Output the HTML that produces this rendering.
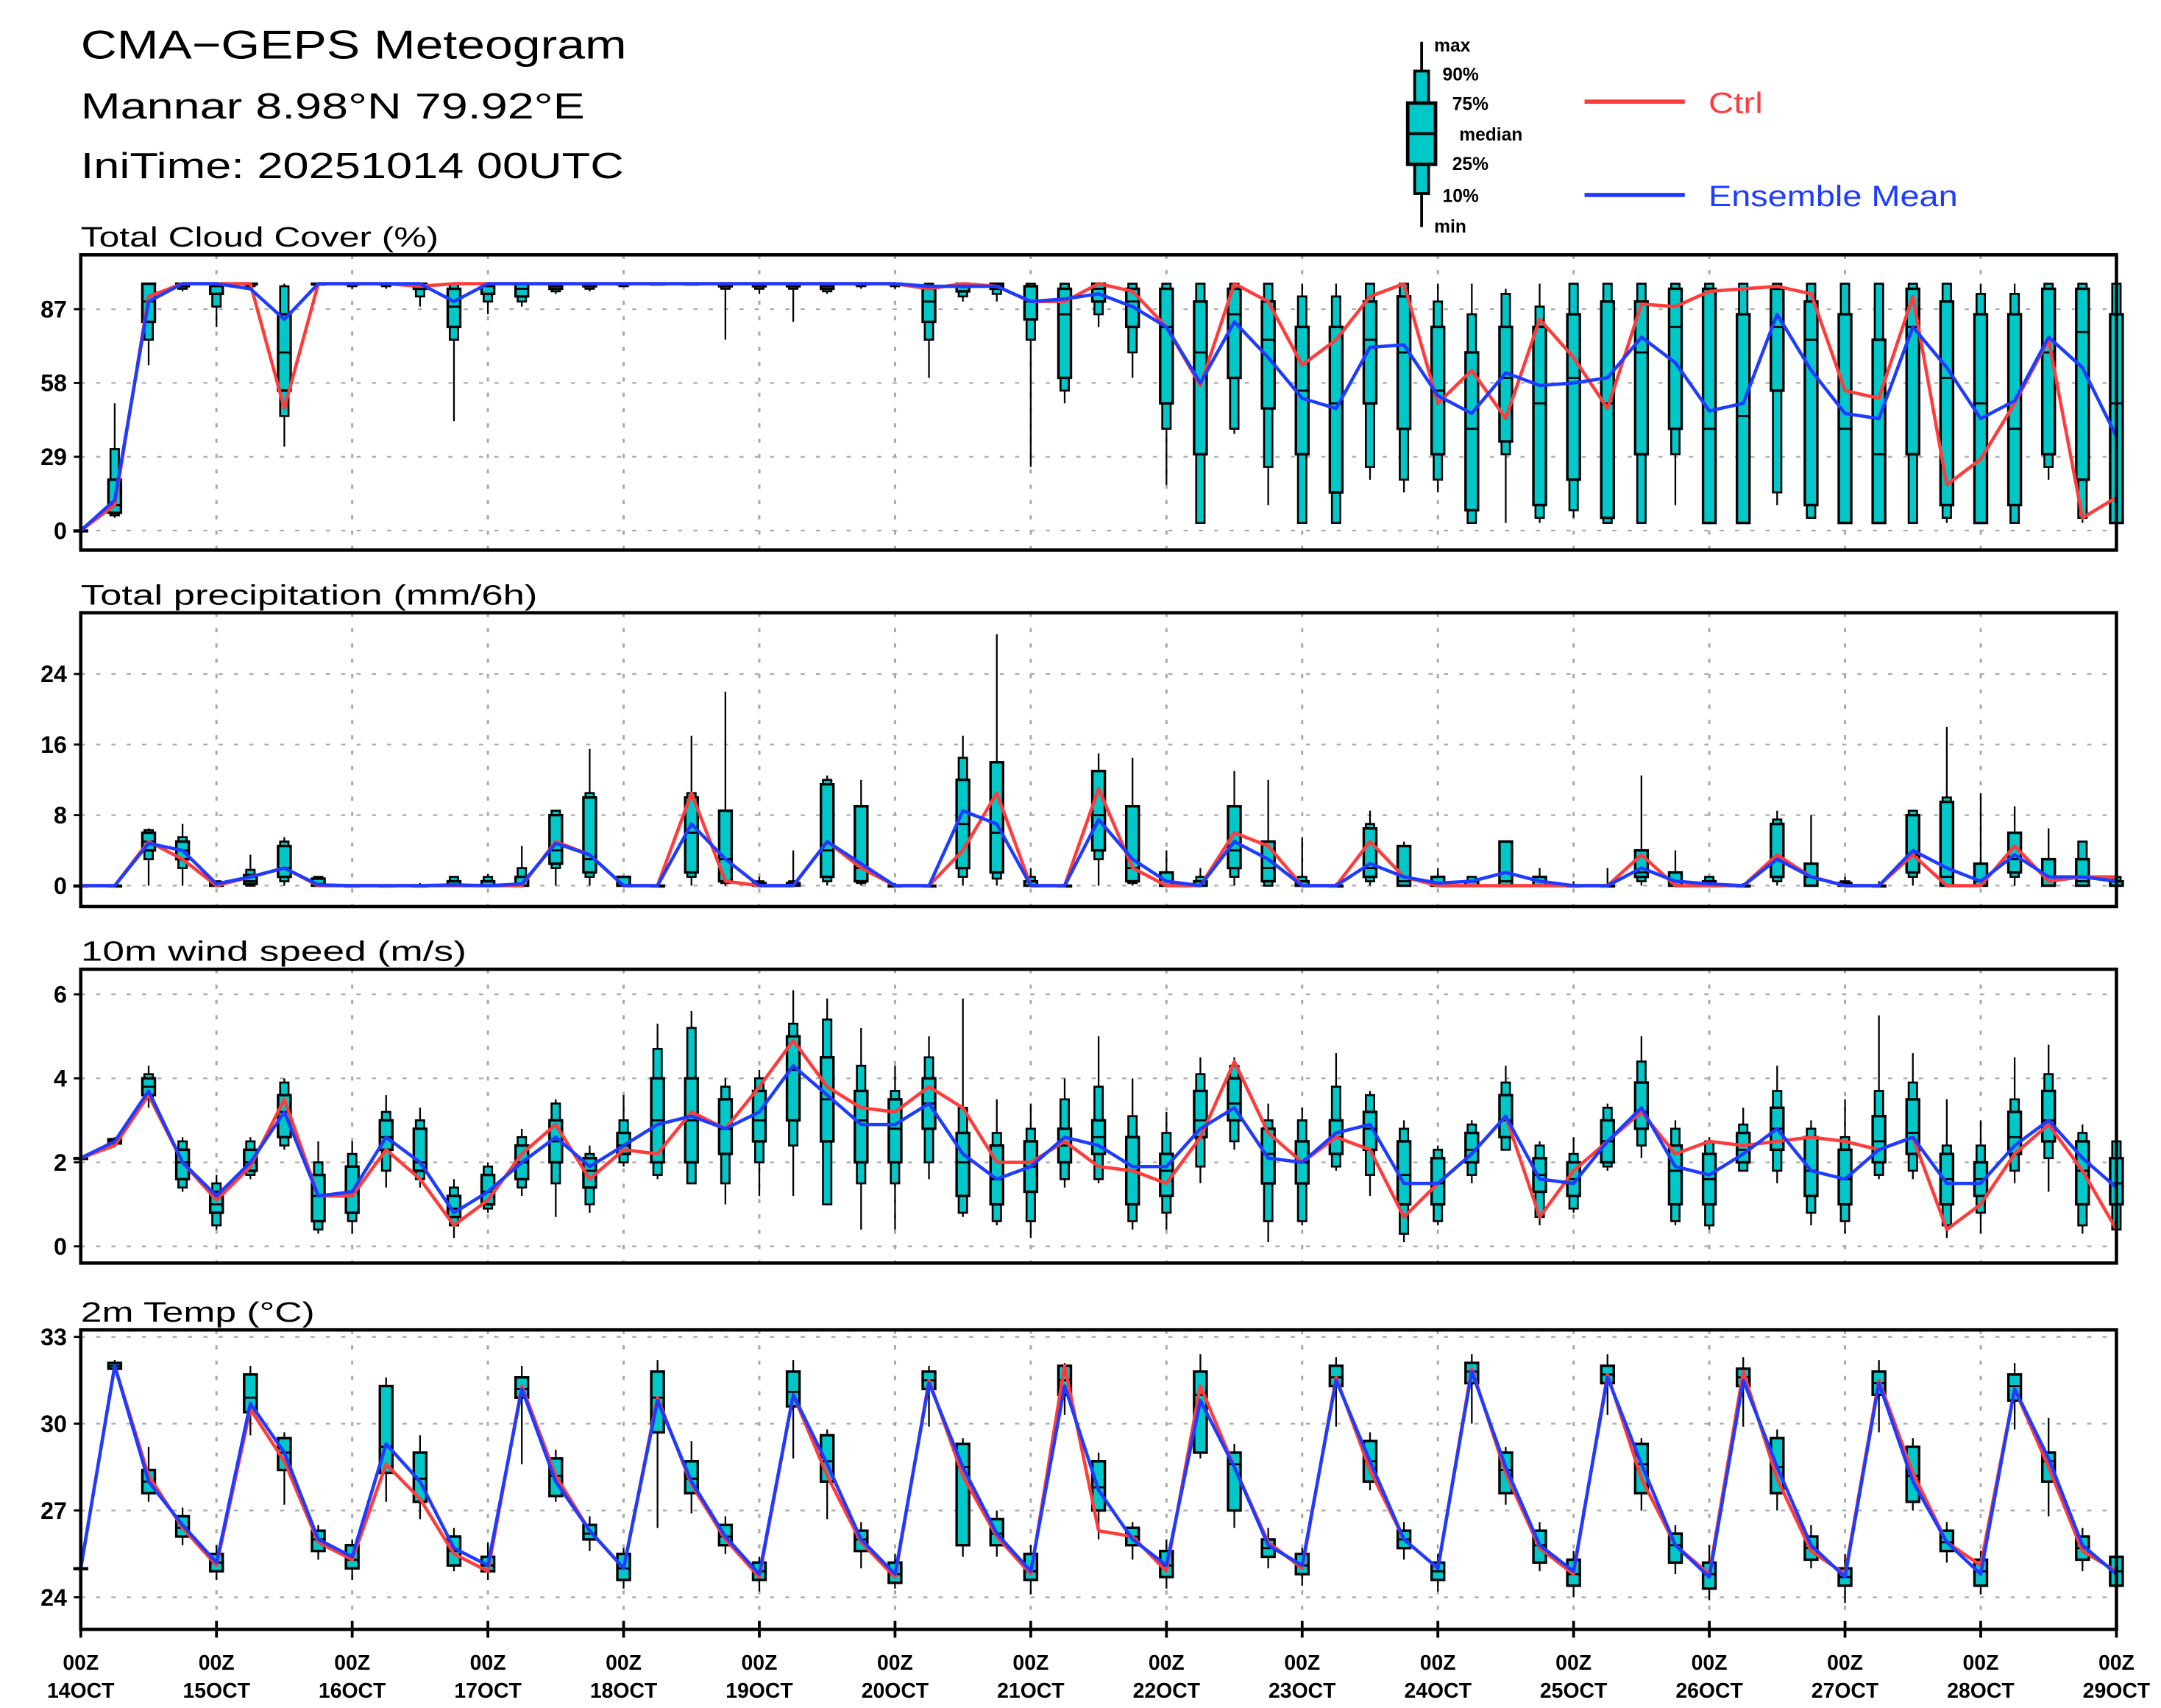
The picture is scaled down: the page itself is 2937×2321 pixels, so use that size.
<!DOCTYPE html>
<html><head><meta charset="utf-8"><style>
html,body{margin:0;padding:0;background:#fff;}
svg{display:block;font-family:"Liberation Sans",sans-serif;}
</style></head><body>
<svg id="chart" width="2937" height="2321" viewBox="0 0 1552 1226.5" xmlns="http://www.w3.org/2000/svg">
<rect x="0" y="0" width="1552" height="1226.5" fill="#fff"/>
<text x="58" y="42" font-size="29" fill="#000" textLength="392" lengthAdjust="spacingAndGlyphs">CMA−GEPS Meteogram</text>
<text x="58" y="85" font-size="26" fill="#000" textLength="362" lengthAdjust="spacingAndGlyphs">Mannar 8.98°N 79.92°E</text>
<text x="58" y="128" font-size="26" fill="#000" textLength="390" lengthAdjust="spacingAndGlyphs">IniTime: 20251014 00UTC</text>
<g>
<line x1="1021" y1="30" x2="1021" y2="163" stroke="#000" stroke-width="2"/>
<rect x="1016" y="51" width="10" height="88" fill="#00c8c8" stroke="#000" stroke-width="2"/>
<rect x="1011" y="74" width="20" height="44" fill="#00c8c8" stroke="#000" stroke-width="2.5"/>
<line x1="1011" y1="96" x2="1031" y2="96" stroke="#000" stroke-width="2"/>
<text x="1030" y="37" font-size="13" font-weight="bold">max</text>
<text x="1036" y="58" font-size="13" font-weight="bold">90%</text>
<text x="1043" y="79" font-size="13" font-weight="bold">75%</text>
<text x="1048" y="101" font-size="13" font-weight="bold">median</text>
<text x="1043" y="122" font-size="13" font-weight="bold">25%</text>
<text x="1036" y="145" font-size="13" font-weight="bold">10%</text>
<text x="1030" y="167" font-size="13" font-weight="bold">min</text>
</g>
<g>
<line x1="1138" y1="73" x2="1210" y2="73" stroke="#ff3c3c" stroke-width="3"/>
<text x="1227" y="81" font-size="21" fill="#ff3c3c" textLength="39" lengthAdjust="spacingAndGlyphs">Ctrl</text>
</g>
<g>
<line x1="1138" y1="140" x2="1210" y2="140" stroke="#1e3cff" stroke-width="3"/>
<text x="1227" y="148" font-size="21" fill="#1e3cff" textLength="179" lengthAdjust="spacingAndGlyphs">Ensemble Mean</text>
</g>
<g id="plots"></g>
</svg>
<script>
// ---------- Total cloud cover (%) ----------
const cloudCtrl=[0,10,92,97,97,97,48,97,97,97,96,97,97,97,97,97,97,97,97,97,97,97,97,97,97,95,97,96,90,90,97,94,80,57,97,90,65,75,92,97,50,63,44,83,68,48,89,88,94,95,96,93,55,52,92,18,28,50,75,5,13];
const cloudMean=[0,12,90,97,97,95,83,97,97,97,97,90,97,97,97,97,97,97,97,97,97,97,97,97,97,96,96,96,90,91,93,88,80,58,82,68,52,48,72,73,53,46,62,57,58,60,76,66,47,50,85,63,46,44,80,64,44,51,76,64,37];
const cloudMin=[0,5,65,94,80,95,33,96,95,95,88,43,85,88,93,94,96,97,97,75,93,82,93,95,95,60,90,90,25,50,80,60,18,3,38,10,3,3,20,15,15,3,3,3,5,3,3,10,3,3,10,5,3,3,3,3,3,3,20,3,3];
const cloudP10=[0,6,75,95,88,96,45,97,96,96,92,75,90,90,94,95,96,97,97,95,95,95,94,96,96,75,92,93,75,55,85,70,40,3,40,25,3,3,25,20,20,3,30,5,8,3,3,30,3,3,15,5,3,3,3,5,3,3,25,5,3];
const cloudP25=[0,7,82,96,93,97,55,97,97,97,95,80,93,92,95,96,97,97,97,96,96,96,95,97,97,82,94,95,83,60,90,80,50,30,60,48,30,15,50,40,30,8,35,10,20,5,30,40,3,3,55,10,3,3,30,10,3,10,30,20,3];
const cloudMed=[0,10,90,97,96,97,70,97,97,97,96,88,96,95,96,97,97,97,97,97,97,97,96,97,97,90,96,96,90,85,95,90,80,70,85,75,55,50,75,70,55,40,60,50,60,50,70,80,40,45,80,75,40,30,80,60,50,40,70,78,50];
const cloudP75=[0,20,97,97,97,97,85,97,97,97,97,95,97,97,97,97,97,97,97,97,97,97,97,97,97,95,97,97,96,95,97,95,95,90,95,90,80,80,90,92,80,70,80,80,85,90,90,95,95,85,95,90,85,75,95,90,85,85,95,95,85];
const cloudP90=[0,32,97,97,97,97,96,97,97,97,97,97,97,97,97,97,97,97,97,97,97,97,97,97,97,97,97,97,97,97,97,97,97,97,97,97,92,92,97,97,90,85,93,88,97,97,97,97,97,97,97,97,97,97,97,97,93,93,97,97,97];
const cloudMax=[0,50,97,97,97,97,97,97,97,97,97,97,97,97,97,97,97,97,97,97,97,97,97,97,97,97,97,97,97,97,97,97,97,97,97,97,97,97,97,97,97,97,95,97,97,97,97,97,97,97,97,97,97,97,97,97,97,97,97,97,97];
const cloudTicks=[0,29,58,87];

// ---------- Total precipitation (mm/6h) ----------
const prCtrl=[0,0,5,3,0,1,2,0,0,0,0,0,0,0,5,3.5,0,0,10.5,0.5,0,0,5,2,0,0,4,10.5,0,0,11,2,0,0,6,4.5,0,0,5,1,0,0,0,0,0,0,3.5,0,0,0,3.5,1,0,0,3.5,0,0,4.5,0.5,1,1];
const prMean=[0,0,4.8,4,0.2,1,2,0.1,0,0,0,0.1,0,0.2,4.8,3.5,0,0,7,3,0,0,5,2.5,0,0,8.5,7,0,0,7.5,3,0.5,0,5,3,0,0,2.5,1,0.3,0.5,1.5,0.5,0,0,2,0.5,0.2,0,3,1,0,0,4,2,0.5,3.5,1,1,0.5];
const prP10=[0,0,3,2,0,0,0.5,0,0,0,0,0,0,0,2,1,0,0,1,0.3,0,0,0.5,0.3,0,0,1,0.8,0,0,3,0.3,0,0,1,0,0,0,0.5,0,0,0,0,0,0,0,0.5,0,0,0,0.5,0,0,0,1,0,0,1,0,0,0];
const prP25=[0,0,4,3,0,0.2,1,0,0,0,0,0,0,0,2.5,1.5,0,0,1.5,0.5,0,0,1,0.5,0,0,2,1.5,0,0,4,0.5,0,0,2,0.5,0,0,1,0,0,0,0,0,0,0,1,0,0,0,1,0,0,0,1.5,0,0,1.5,0,0,0];
const prMed=[0,0,5,4,0,0.5,2,0.2,0,0,0,0,0,0,4,3,0,0,6,3,0,0,4,2,0,0,7,6,0,0,8,2,0,0,4,2,0,0,2,0.5,0,0,0.5,0,0,0,1.5,0.5,0,0,3,1,0,0,3.5,1,0.5,3,1,0.5,0];
const prP75=[0,0,6,5,0.3,1.2,4.5,0.8,0,0,0,0.5,0.5,1,8,10,1,0,10,8.5,0.3,0.3,11.5,9,0,0,12,14,0.5,0,13,9,1.5,0.5,9,5,0.5,0,6.5,4.5,1,0.5,5,1,0,0,4,1.5,0.5,0,7,2.5,0.3,0,8,9.5,2.5,6,3,3,0.5];
const prP90=[0,0,6.3,5.5,0.5,1.8,5,1,0,0,0,1,1,2,8.5,10.5,1,0,10.5,8.5,0.5,0.5,12,9,0,0,14.5,14,1,0,13,9,1.5,1,9,5,1,0,7,4.5,1,1,5,1,0,0,4,1.5,1,0,7.5,2.5,0.5,0,8.5,10,2.5,6,3,5,1];
const prMax=[0,0,6.5,7,0.5,3.5,5.5,1,0,0,0.3,1,1.3,4.5,8.5,15.5,1,0.2,17,22,1,4,12.5,12,0.3,0.2,17,28.5,2,0.2,15,14.5,4,2,13,12,5.5,0.3,8.5,5,2,1,5,2,0.5,2,12.5,4,1,0.3,8.5,8,1,0.5,8.5,18,10.5,9,6.5,5,5];
const prTicks=[0,8,16,24];

// ---------- 10m wind speed (m/s) ----------
const wCtrl=[2.1,2.4,3.6,2,1.1,1.9,3.5,1.2,1.2,2.3,1.6,0.5,1.1,2.2,2.9,1.6,2.3,2.2,3.2,2.8,3.8,4.9,3.8,3.3,3.2,3.8,3.3,2,2,2.5,1.9,1.8,1.5,2.6,4.4,2.7,2,2.6,2.3,0.7,1.5,2.2,3.1,0.7,1.8,2.5,3.2,2.2,2.5,2.4,2.5,2.6,2.5,2.3,2.6,0.4,1,2.2,2.9,1.8,0.4];
const wMean=[2.1,2.5,3.7,2,1.2,2,3.2,1.2,1.3,2.6,2,0.8,1.3,2,2.6,1.9,2.4,2.9,3.1,2.8,3.2,4.3,3.6,2.9,2.9,3.4,2.2,1.6,1.9,2.6,2.4,1.9,1.9,2.8,3.3,2.1,2,2.7,2.9,1.5,1.5,2.2,3.1,1.6,1.5,2.5,3.3,1.9,1.7,2.2,2.8,1.8,1.6,2.3,2.6,1.5,1.5,2.4,3,2.1,1.4];
const wMin=[2.1,2.4,3.3,1.3,0.4,1.6,2.3,0.3,0.3,1.4,1.4,0.2,0.8,1.2,0.7,0.8,1.9,1.6,1.5,1,1.2,1.2,1,0.4,0.4,1.6,0.7,0.5,0.2,1.4,1.5,0.4,0.4,1.5,2.3,0.1,0.5,1.8,1.2,0.1,0.5,1.5,2.3,0.5,0.8,1.8,2.1,0.5,0.4,1.8,1.5,0.5,0.3,1.6,1.6,0.2,0.3,1.5,1.3,0.3,0.1];
const wP10=[2.1,2.45,3.5,1.4,0.5,1.7,2.4,0.4,0.6,1.8,1.6,0.5,0.9,1.4,1.5,1,2,1.7,1.5,1.5,2,2.4,1,1.5,1.5,2,0.8,0.6,0.6,1.6,1.6,0.6,0.8,1.9,2.5,0.6,0.6,1.9,1.7,0.3,0.6,1.7,2.3,0.7,0.9,1.9,2.4,0.6,0.5,1.8,1.8,0.8,0.6,1.7,1.8,0.5,0.8,1.8,2.1,0.5,0.4];
const wP25=[2.1,2.45,3.6,1.6,0.8,1.8,2.6,0.6,0.8,2.3,1.8,0.7,1,1.6,2,1.4,2.2,2,2,2.2,2.5,3,2.5,2,2,2.8,1.2,1,1.3,2,2.2,1,1.2,2.6,3,1.5,1.5,2.2,2.3,1,1,2,2.6,1.3,1.2,2,2.8,1,1,2,2.3,1.2,1,2,2.2,1,1.2,2.2,2.5,1,1];
const wMed=[2.1,2.5,3.8,2,1,2,3.2,1.2,1.3,2.6,2,0.9,1.3,2,2.5,1.8,2.4,3,3,2.8,3,4.2,3.5,3,2.8,3.4,2,1.6,1.9,2.4,2.6,1.8,1.8,3,3.4,2.2,2,2.6,2.8,1.7,1.5,2.3,3,1.7,1.6,2.5,3.2,1.8,1.6,2.3,2.8,1.8,1.6,2.5,2.7,1.6,1.6,2.6,3,1.8,1.5];
const wP75=[2.1,2.55,4,2.3,1.3,2.3,3.6,1.7,1.9,3,2.8,1.2,1.7,2.4,3,2.1,2.7,4,4,3.5,3.7,5,4.5,3.7,3.5,4,2.7,2.4,2.5,2.8,3,2.6,2.2,3.7,4,2.8,2.5,3,3.2,2.5,2.1,2.7,3.6,2.1,2,3,3.9,2.4,2.2,2.7,3.3,2.6,2.3,3.1,3.5,2.2,2,3.2,3.7,2.5,2.1];
const wP90=[2.1,2.55,4.1,2.5,1.5,2.5,3.9,2,2.2,3.2,3,1.4,1.9,2.6,3.4,2.2,3,4.7,5.2,3.8,4,5.3,5.4,4.3,3.7,4.5,3.3,2.7,2.8,3.5,3.8,3.1,2.7,4.1,4.3,3,3,3.8,3.6,2.8,2.3,2.9,3.9,2.4,2.2,3.3,4.4,2.8,2.5,2.9,3.7,2.8,2.6,3.7,3.9,2.4,2.4,3.5,4.1,2.7,2.5];
const wMax=[2.1,2.6,4.3,2.6,1.7,2.6,4,2.5,2.5,3.6,3.3,1.6,2,2.8,3.5,2.4,3.6,5.3,5.6,4,4.2,6.1,5.9,5.2,4.3,5,5.9,3.5,3.4,4,5,4,3.2,4.5,4.5,3.4,3.3,4.6,3.7,3,2.4,3,4.3,2.5,2.6,3.4,5,3,2.6,3.3,4.3,3,3.5,5.5,4.6,3.5,3,4.5,4.8,2.9,2.6];
const wTicks=[0,2,4,6];

// ---------- 2m temperature (°C) ----------
const tCtrl=[25,32,28.2,26.4,25.1,30.5,28.7,25.9,25.3,28.6,27.4,25.5,24.9,31.3,28.2,26.3,25,30.9,27.9,26,24.7,31,28.2,25.9,24.7,31.5,28.2,26.1,24.8,32,26.3,26.1,24.9,31.3,28.5,25.9,25,31.6,28.4,26,25,31.9,28.3,25.7,24.8,31.7,28.1,25.8,24.8,31.8,28.1,25.6,24.8,31.5,28.3,25.9,25.1,31.2,28.5,25.6,24.9];
const tMean=[25,32,28,26.5,25.2,30.7,29,26,25.4,29.3,28,25.7,25.1,31.2,28,26.3,25,30.8,28,26.1,24.8,31,28.6,26,24.8,31.4,28.5,26.2,24.9,31.3,27.7,26,25.1,30.8,28.5,25.8,25.1,31.5,28.7,26,25,31.8,28.5,25.8,24.9,31.6,28.6,25.8,24.7,31.5,28.5,25.8,24.7,31.4,28,25.9,24.8,31.2,28.8,25.8,24.8];
const tMin=[25,31.8,27.3,25.8,24.6,29.6,27.2,25.3,24.6,27.3,26.7,24.9,24.6,28.6,27.3,25.6,24.3,26.4,26.9,25.5,24.2,28.8,26.7,25,24.3,29.9,25.4,25.4,24.1,30.3,26,25.3,24.3,28.8,26.4,25,24.4,29.9,27.7,25.3,24.2,30,27.2,24.9,24,30.3,27,24.8,23.9,29.9,27,25,23.8,29.7,27,25.2,24.1,29.8,26.8,24.9,24];
const tP25=[25,31.9,27.6,26.1,24.9,30.4,28.4,25.6,25,28.3,27.3,25.1,24.9,30.9,27.5,26,24.6,29.7,27.6,25.8,24.6,30.6,28,25.6,24.5,31.2,25.8,25.8,24.6,31,27,25.8,24.7,29,27,25.4,24.8,31.3,28,25.7,24.6,31.4,27.6,25.2,24.4,31.4,27.6,25.2,24.3,31.3,27.6,25.3,24.4,31,27.3,25.6,24.4,30.8,28,25.3,24.4];
const tMed=[25,32,28,26.4,25.2,30.9,29,26,25.3,29.2,28.1,25.6,25.1,31.2,28.2,26.2,25,30.9,28.1,26.1,24.9,31.1,28.7,26,24.8,31.5,28.5,26.2,24.9,31.5,27.8,26.1,25.1,31,28.6,25.7,25.1,31.6,28.7,26,24.9,31.8,28.4,25.8,24.8,31.7,28.6,25.8,24.8,31.6,28.5,25.7,24.7,31.4,28.2,25.9,24.9,31.3,28.7,25.7,24.9];
const tP75=[25,32.1,28.4,26.8,25.5,31.7,29.5,26.3,25.8,31.3,29,26.1,25.4,31.6,28.8,26.5,25.5,31.8,28.7,26.5,25.2,31.8,29.6,26.3,25.2,31.8,29.3,26.7,25.5,32,28.7,26.4,25.6,31.8,29,26,25.5,32,29.4,26.3,25.2,32.1,29,26.3,25.3,32,29.3,26.2,25.2,31.9,29.5,26.1,25,31.8,29.2,26.3,25.3,31.7,29,26.1,25.4];
const tMax=[25,32.2,29.2,27.1,25.8,32,29.7,26.5,26,31.6,29.6,26.4,25.9,32,29.1,26.8,25.7,32.2,29.4,26.8,25.4,32.2,29.8,26.6,25.5,32,29.5,27,25.8,32.1,29,26.6,26,32.4,29.3,26.4,25.7,32.3,29.7,26.6,25.5,32.4,29.2,26.6,25.6,32.4,29.5,26.5,25.8,32.3,29.8,26.5,25.5,32.2,29.5,26.6,25.6,32.1,30.2,26.4,25.6];
const tTicks=[24,27,30,33];

const dayLabels=["14OCT","15OCT","16OCT","17OCT","18OCT","19OCT","20OCT","21OCT","22OCT","23OCT","24OCT","25OCT","26OCT","27OCT","28OCT","29OCT"];

const NS="http://www.w3.org/2000/svg";
const plots=document.getElementById('plots');
const X0=58, X1=1520, NSTEP=60;
function xAt(i){return X0+(X1-X0)*i/NSTEP;}
function mk(tag,attrs,parent){const e=document.createElementNS(NS,tag);for(const k in attrs)e.setAttribute(k,attrs[k]);(parent||plots).appendChild(e);return e;}

function panel(cfg){
  const g=mk('g',{});
  
  
  const yAt=v=>cfg.yb+(v-cfg.vb)*(cfg.yt-cfg.yb)/(cfg.vt-cfg.vb);
  for(let d=1;d<15;d++){
    const l=mk('line',{x1:xAt(d*4),x2:xAt(d*4),y1:cfg.top,y2:cfg.bot,stroke:'#aaa','stroke-width':1.6,'stroke-dasharray':'3,8'},g);
    
    
  }
  cfg.ticks.forEach(t=>{
    const y=yAt(t);
    const l=mk('line',{x1:X0,x2:X1,y1:y,y2:y,stroke:'#aaa','stroke-width':1.2,'stroke-dasharray':'3,8'},g);
    
    
    mk('line',{x1:X0-5,x2:X0,y1:y,y2:y,stroke:'#000','stroke-width':1.5},g);
    const tx=mk('text',{x:X0-10,y:y+6,'font-size':17,'font-weight':'bold','text-anchor':'end',fill:'#000'},g);
    
    
    tx.textContent=t;
  });
  const tt=mk('text',{x:58,y:cfg.top-6,'font-size':20,fill:'#000',textLength:cfg.tlen,lengthAdjust:'spacingAndGlyphs'},g);
  
  
  tt.textContent=cfg.title;
  for(let i=0;i<=NSTEP;i++){
    const x=xAt(i);
    const bg=mk('g',{},g);
    
    
    mk('line',{x1:x,x2:x,y1:yAt(cfg.mn[i]),y2:yAt(cfg.mx[i]),stroke:'#000','stroke-width':1.2},bg);
    const a=yAt(cfg.p90[i]),b=yAt(cfg.p10[i]);
    mk('rect',{x:x-3,y:a,width:6,height:Math.max(b-a,0.5),fill:'#00c8c8',stroke:'#000','stroke-width':1.4},bg);
    const c=yAt(cfg.p75[i]),d=yAt(cfg.p25[i]);
    mk('rect',{x:x-4.5,y:c,width:9,height:Math.max(d-c,0.5),fill:'#00c8c8',stroke:'#000','stroke-width':1.8},bg);
    const m=yAt(cfg.med[i]);
    mk('line',{x1:x-4.5,x2:x+4.5,y1:m,y2:m,stroke:'#000','stroke-width':1.5},bg);
  }
  const ctrlPts=cfg.ctrl.map((v,i)=>xAt(i).toFixed(1)+','+yAt(v).toFixed(1)).join(' ');
  const cl=mk('polyline',{points:ctrlPts,fill:'none',stroke:'#ff3c3c','stroke-width':2.4,'stroke-linejoin':'round'},g);
  
  
  const meanPts=cfg.mean.map((v,i)=>xAt(i).toFixed(1)+','+yAt(v).toFixed(1)).join(' ');
  const ml=mk('polyline',{points:meanPts,fill:'none',stroke:'#1e3cff','stroke-width':2.4,'stroke-linejoin':'round'},g);
  
  
  const fr=mk('rect',{x:X0,y:cfg.top,width:X1-X0,height:cfg.bot-cfg.top,fill:'none',stroke:'#000','stroke-width':2.4},g);
  
  
}
panel({name:'cloud-cover-panel',title:'Total Cloud Cover (%)',tlen:257,top:183,bot:395,vb:0,yb:381,vt:87,yt:222,ticks:cloudTicks,
  mn:cloudMin,p10:cloudP10,p25:cloudP25,med:cloudMed,p75:cloudP75,p90:cloudP90,mx:cloudMax,ctrl:cloudCtrl,mean:cloudMean});
panel({name:'precipitation-panel',title:'Total precipitation (mm/6h)',tlen:328,top:440,bot:651,vb:0,yb:636,vt:24,yt:484,ticks:prTicks,
  mn:prCtrl.map(()=>0),p10:prP10,p25:prP25,med:prMed,p75:prP75,p90:prP90,mx:prMax,ctrl:prCtrl,mean:prMean});
panel({name:'wind-speed-panel',title:'10m wind speed (m/s)',tlen:277,top:696,bot:907,vb:0,yb:895,vt:6,yt:714,ticks:wTicks,
  mn:wMin,p10:wP10,p25:wP25,med:wMed,p75:wP75,p90:wP90,mx:wMax,ctrl:wCtrl,mean:wMean});
panel({name:'temperature-panel',title:'2m Temp (°C)',tlen:168,top:955,bot:1170,vb:24,yb:1147,vt:33,yt:960,ticks:tTicks,
  mn:tMin,p10:tP25,p25:tP25,med:tMed,p75:tP75,p90:tP75,mx:tMax,ctrl:tCtrl,mean:tMean});

dayLabels.forEach((lab,d)=>{
  const x=xAt(d*4);
  mk('line',{x1:x,x2:x,y1:1164,y2:1176,stroke:'#000','stroke-width':2});
  const t1=mk('text',{x:x,y:1199,'font-size':15,'font-weight':'bold','text-anchor':'middle'});
  
  
  t1.textContent='00Z';
  const t2=mk('text',{x:x,y:1219,'font-size':15,'font-weight':'bold','text-anchor':'middle'});
  
  
  t2.textContent=lab;
});
</script>
</body></html>
